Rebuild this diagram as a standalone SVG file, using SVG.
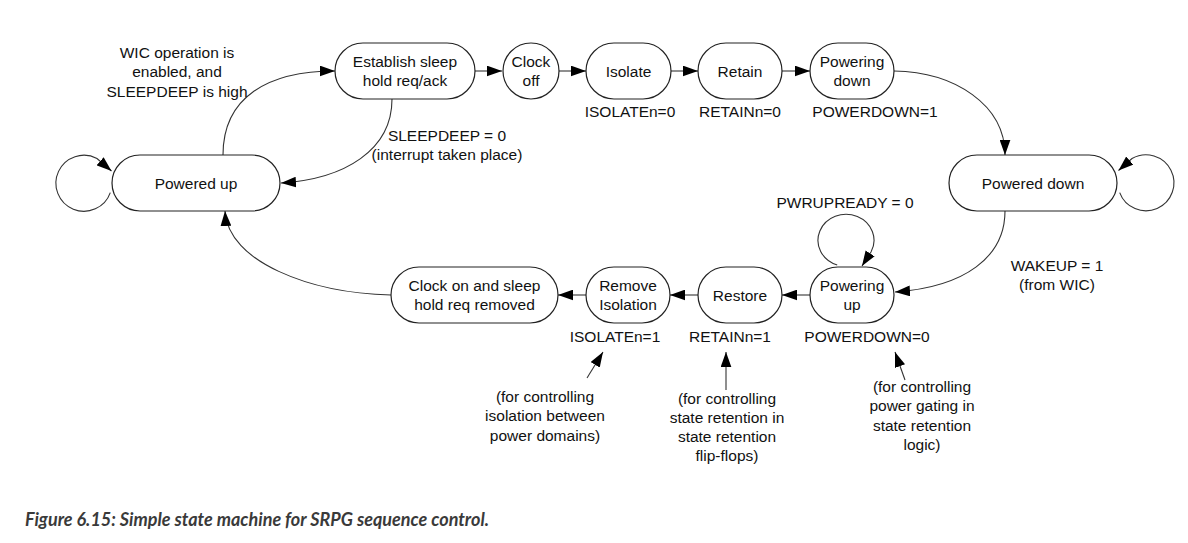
<svg xmlns="http://www.w3.org/2000/svg" width="1188" height="543" viewBox="0 0 1188 543">
<defs>
<marker id="ah" viewBox="0 0 14 10" refX="14" refY="5" markerWidth="15" markerHeight="11" markerUnits="userSpaceOnUse" orient="auto">
<path d="M0,0 L14,5 L0,10 z" fill="#000"/>
</marker>
<style>
.n{fill:#fff;stroke:#222;stroke-width:1.2}
.c{fill:none;stroke:#333;stroke-width:1.1;marker-end:url(#ah)}
.l{fill:none;stroke:#333;stroke-width:1.1}
text{font-family:"Liberation Sans",Arial,sans-serif;font-size:15.5px;fill:#111;text-anchor:middle}
.cap{font-family:Lato,"Noto Sans",sans-serif;font-weight:bold;font-style:italic;font-size:18px;fill:#3a3a3a;text-anchor:start}
</style>
</defs>
<rect width="1188" height="543" fill="#fff"/>

<g id="connectors">
<path class="c" d="M223,155 C223,97 268,71 335,71"/>
<path class="c" d="M392,99 C392,150 345,179 281,183"/>
<path class="c" d="M475,71 L502,71"/>
<path class="c" d="M559,71 L586,71"/>
<path class="c" d="M671,71 L698,71"/>
<path class="c" d="M782,71 L810,71"/>
<path class="c" d="M894,71 C955,72 1005,105 1005,155"/>
<path class="c" d="M1005,211 C1005,257 965,287 895,292"/>
<path class="c" d="M810,295 L782,295"/>
<path class="c" d="M698,295 L670,295"/>
<path class="c" d="M586,295 L558,295"/>
<path class="c" d="M391,295 C310,293 228,262 225,211"/>
<path class="c" d="M110.3,192.6 A28,28 0 1 1 97,158.5 L111.5,171"/>
<path class="c" d="M1119.7,192.6 A28,28 0 1 0 1132,158.5 L1118.5,170.5"/>
<path class="c" d="M837.2,265 A28,26 0 1 1 871,252 L862,266"/>
<path class="c" d="M587,378 L603,352"/>
<path class="c" d="M726,390 L726,352"/>
<path class="c" d="M905,380 L895,352"/>
</g>

<g id="powered-up">
<rect class="n" x="112" y="155" width="168" height="56" rx="28"/>
<text x="196" y="188.5">Powered up</text>
</g>
<g id="establish">
<rect class="n" x="335" y="43" width="140" height="56" rx="28"/>
<text x="405" y="67">Establish sleep</text>
<text x="405" y="86">hold req/ack</text>
</g>
<g id="clock-off">
<circle class="n" cx="531" cy="71" r="28"/>
<text x="531" y="67">Clock</text>
<text x="531" y="86">off</text>
</g>
<g id="isolate">
<rect class="n" x="586" y="43" width="85" height="56" rx="28"/>
<text x="628.5" y="76.5">Isolate</text>
</g>
<g id="retain">
<rect class="n" x="698" y="43" width="84" height="56" rx="28"/>
<text x="740" y="76.5">Retain</text>
</g>
<g id="powering-down">
<rect class="n" x="810" y="43" width="84" height="56" rx="28"/>
<text x="852" y="67">Powering</text>
<text x="852" y="86">down</text>
</g>
<g id="powered-down">
<rect class="n" x="949" y="155" width="168" height="56" rx="28"/>
<text x="1033" y="188.5">Powered down</text>
</g>
<g id="powering-up">
<rect class="n" x="810" y="267" width="84" height="56" rx="28"/>
<text x="852" y="291">Powering</text>
<text x="852" y="310">up</text>
</g>
<g id="restore">
<rect class="n" x="698" y="267" width="84" height="56" rx="28"/>
<text x="740" y="300.5">Restore</text>
</g>
<g id="remove-isolation">
<rect class="n" x="586" y="267" width="84" height="56" rx="28"/>
<text x="628" y="291">Remove</text>
<text x="628" y="310">Isolation</text>
</g>
<g id="clock-on">
<rect class="n" x="391" y="267" width="167" height="56" rx="28"/>
<text x="474.5" y="291">Clock on and sleep</text>
<text x="474.5" y="310">hold req removed</text>
</g>

<g id="labels">
<text x="177" y="58">WIC operation is</text>
<text x="177" y="77">enabled, and</text>
<text x="177" y="96.5">SLEEPDEEP is high</text>
<text x="447" y="140.5">SLEEPDEEP = 0</text>
<text x="447" y="159.5">(interrupt taken place)</text>
<text x="630" y="117">ISOLATEn=0</text>
<text x="740" y="117">RETAINn=0</text>
<text x="875" y="117">POWERDOWN=1</text>
<text x="845" y="207.5">PWRUPREADY = 0</text>
<text x="1057" y="270.5">WAKEUP = 1</text>
<text x="1057" y="289.5">(from WIC)</text>
<text x="615" y="341.5">ISOLATEn=1</text>
<text x="730" y="341.5">RETAINn=1</text>
<text x="867" y="341.5">POWERDOWN=0</text>
<text x="545" y="402">(for controlling</text>
<text x="545" y="421">isolation between</text>
<text x="545" y="440.5">power domains)</text>
<text x="727" y="403.5">(for controlling</text>
<text x="727" y="422.5">state retention in</text>
<text x="727" y="441.5">state retention</text>
<text x="727" y="460.5">flip-flops)</text>
<text x="922" y="392">(for controlling</text>
<text x="922" y="411">power gating in</text>
<text x="922" y="430.5">state retention</text>
<text x="922" y="449.5">logic)</text>
</g>
<text class="cap" x="25" y="526">Figure 6.15: Simple state machine for SRPG sequence control.</text>
</svg>
